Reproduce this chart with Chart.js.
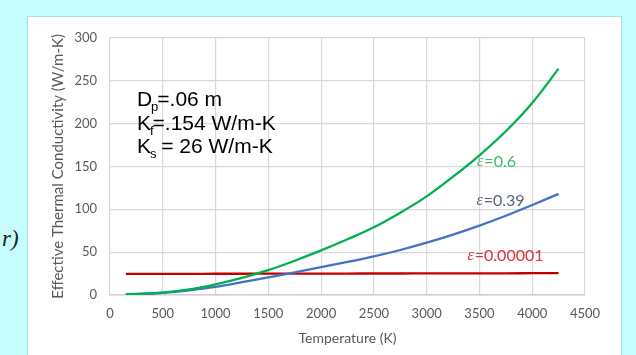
<!DOCTYPE html>
<html>
<head>
<meta charset="utf-8">
<script src="https://cdn.jsdelivr.net/npm/chart.js@4.4.1/dist/chart.umd.min.js"></script>
<style>
  html, body { margin: 0; padding: 0; }
  body { width: 636px; height: 355px; background: #c6fdfd; position: relative; overflow: hidden; }
  #panel { position: absolute; left: 27px; top: 16px; width: 595px; height: 345px; background: #fff;
           border: 1px solid #a6e2e2; box-sizing: border-box; }
  #myChart { position: absolute; left: 0; top: 0; }
  #frag { position: absolute; left: 2px; top: 226px; font: italic 23px "Liberation Serif"; color: #222; }
</style>
</head>
<body>
<div id="frag">r)</div>
<div id="panel"><canvas id="myChart" width="593" height="338"></canvas></div>
<script>
// temperatures (K)
const temps = [150, 250, 500, 750, 1000, 1250, 1500, 1750, 2000, 2250, 2500, 2750, 3000, 3250, 3500, 3750, 4000, 4250];
// effective thermal conductivity (W/m-K)
const eps06 = [1, 1.2, 2.8, 6.5, 12.5, 20, 29, 40, 52, 65, 79, 96, 115, 138, 163, 191, 224, 264];
const eps039 = [1, 1.1, 2.6, 5.5, 9.5, 15, 20.5, 26.5, 32.5, 38.5, 45, 52.5, 61, 70.5, 81, 92.5, 105, 118];
const eps00001 = [24.6, 24.6, 24.7, 24.7, 24.8, 24.8, 24.9, 24.9, 25, 25, 25.1, 25.1, 25.2, 25.2, 25.3, 25.3, 25.4, 25.5];
const xTicks = [0, 500, 1000, 1500, 2000, 2500, 3000, 3500, 4000, 4500];
const yTicks = [0, 50, 100, 150, 200, 250, 300];

// curve labels: [eps text, rest, T, k, colour]
const curveLabels = [
    ["\u03b5", "=0.6", 3657, 155, "#3dbd6b"],
    ["\u03b5", "=0.39", 3695, 110, "#5b6476"],
    ["\u03b5", "=0.00001", 3742, 46, "#e0303c"],
];
// parameter box: [main, subscript, rest]
const params = [
    ["D", "p", "=.06 m"],
    ["K", "f", "=.154 W/m-K"],
    ["K", "s", " = 26 W/m-K"],
];

function pts(ys) {
    return temps.map((t, i) => ({ x: t, y: ys[i] }));
}

const textPlugin = {
    id: "texts",
    afterDatasetsDraw(chart) {
        const ctx = chart.ctx;
        const xs = chart.scales.x, ys = chart.scales.y;
        ctx.save();
        ctx.textBaseline = "middle";
        curveLabels.forEach(l => {
            ctx.font = "italic 16px 'Liberation Serif'";
            const w1 = ctx.measureText(l[0]).width;
            ctx.font = "16px Lato";
            const w2 = ctx.measureText(l[1]).width;
            let x = xs.getPixelForValue(l[2]) - (w1 + w2) / 2;
            const y = ys.getPixelForValue(l[3]);
            ctx.fillStyle = l[4];
            ctx.textAlign = "left";
            ctx.font = "italic 16px 'Liberation Serif'";
            ctx.fillText(l[0], x, y);
            ctx.font = "16px Lato";
            ctx.fillText(l[1], x + w1 + 1, y);
        });
        ctx.textBaseline = "alphabetic";
        ctx.fillStyle = "#000";
        const x0 = xs.getPixelForValue(255);
        const baseVals = [221, 193, 166];
        params.forEach((p, i) => {
            const y = ys.getPixelForValue(baseVals[i]);
            let x = x0;
            ctx.font = "21px 'Liberation Sans'";
            ctx.fillText(p[0], x, y);
            x += ctx.measureText(p[0]).width - 1;
            ctx.font = "13px 'Liberation Sans'";
            ctx.fillText(p[1], x, y + 5);
            x += ctx.measureText(p[1]).width - 1;
            ctx.font = "21px 'Liberation Sans'";
            ctx.fillText(p[2], x, y);
        });
        ctx.restore();
    }
};

const ctx = document.getElementById("myChart").getContext("2d");
const myChart = new Chart(ctx, {
    type: "line",
    data: {
        datasets: [
            { label: "eps=0.6", data: pts(eps06), borderColor: "#00b050" },
            { label: "eps=0.39", data: pts(eps039), borderColor: "#4472c4" },
            { label: "eps=0.00001", data: pts(eps00001), borderColor: "#c00000" },
        ],
    },
    options: {
        responsive: false,
        animation: false,
        layout: { padding: { left: 0, right: 36, top: 17.5, bottom: 0 } },
        elements: {
            line: { borderWidth: 2.3, tension: 0.4, cubicInterpolationMode: "monotone", fill: false },
            point: { radius: 0 },
        },
        plugins: { legend: { display: false }, tooltip: { enabled: false } },
        scales: {
            x: {
                type: "linear",
                min: 0,
                max: 4500,
                afterBuildTicks: s => { s.ticks = xTicks.map(v => ({ value: v })); },
                afterFit: s => { s.height = 60; },
                ticks: { color: "#595959", font: { family: "Lato", size: 13 }, padding: 11, maxRotation: 0,
                         callback: v => String(v) },
                grid: { color: "#d9d9d9", lineWidth: 1.2, drawTicks: false },
                border: { color: "#d0d0d0", width: 1.5 },
                title: { display: true, text: "Temperature (K)", color: "#595959",
                         font: { family: "Lato", size: 14 }, padding: { top: 0, bottom: 8 } },
            },
            y: {
                min: 0,
                max: 300,
                afterBuildTicks: s => { s.ticks = yTicks.map(v => ({ value: v })); },
                afterFit: s => { s.width = 82; },
                ticks: { color: "#595959", font: { family: "Lato", size: 13 }, padding: 13,
                         callback: v => String(v) },
                grid: { color: "#d9d9d9", lineWidth: 1.2, drawTicks: false },
                border: { display: false },
                title: { display: true, text: "Effective Thermal Conductivity (W/m-K)", color: "#595959",
                         font: { family: "Lato", size: 15 }, padding: { top: 21, bottom: 0 } },
            },
        },
    },
    plugins: [textPlugin],
});
</script>
</body>
</html>
